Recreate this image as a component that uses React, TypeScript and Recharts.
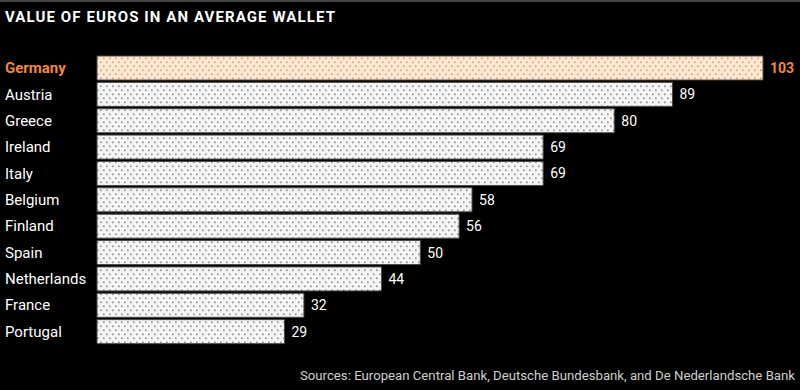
import React from "react";
import { BarChart, Bar, XAxis, YAxis, Cell, LabelList } from "recharts";

const countries = ["Germany", "Austria", "Greece", "Ireland", "Italy", "Belgium", "Finland", "Spain", "Netherlands", "France", "Portugal"];
const values = [103, 89, 80, 69, 69, 58, 56, 50, 44, 32, 29];
const highlight = "Germany";

const data = countries.map((c, i) => ({ country: c, value: values[i] }));

const ORANGE = "#f08a3c";
const FONT = "Roboto, 'Noto Sans', sans-serif";

const CountryTick = (props: any) => {
  const { y, payload } = props;
  const hi = payload.value === highlight;
  return (
    <text x={5} y={y} dy={5} textAnchor="start" fill={hi ? ORANGE : "#ffffff"} fontSize={15} fontWeight={hi ? 700 : 400} fontFamily={FONT}>
      {payload.value}
    </text>
  );
};

const ValueLabel = (props: any) => {
  const { x, y, width, height, value, index } = props;
  const hi = countries[index] === highlight;
  return (
    <text x={Number(x) + Number(width) + 7} y={Number(y) + Number(height) / 2} dy={5} fill={hi ? ORANGE : "#ffffff"} fontSize={14} fontWeight={hi ? 700 : 400} fontFamily={FONT}>
      {value}
    </text>
  );
};

export default function App() {
  return (
    <div style={{ position: "absolute", left: 0, top: 0, width: 800, height: 390, background: "#000", overflow: "hidden" }}>
      <svg width={0} height={0} style={{ position: "absolute" }}>
        <defs>
          <pattern id="dotsGrey" width={6} height={8} patternUnits="userSpaceOnUse">
            <rect width={6} height={8} fill="#f5f5f5" />
            <rect x={1} y={1.5} width={1.6} height={1.6} fill="#8c8c8c" />
            <rect x={4} y={5.5} width={1.6} height={1.6} fill="#8c8c8c" />
          </pattern>
          <pattern id="dotsOrange" width={6} height={8} patternUnits="userSpaceOnUse">
            <rect width={6} height={8} fill="#fce8d6" />
            <rect x={1} y={1.5} width={1.6} height={1.6} fill="#ef9550" />
            <rect x={4} y={5.5} width={1.6} height={1.6} fill="#ef9550" />
          </pattern>
        </defs>
      </svg>
      <div style={{ position: "absolute", left: 0, top: 0, width: 800, height: 2, background: "#444" }} />
      <div style={{ position: "absolute", left: 5, top: 7, color: "#fff", fontFamily: FONT, fontWeight: 700, fontSize: 15, letterSpacing: 1.1, lineHeight: "20px", whiteSpace: "nowrap" }}>
        VALUE OF EUROS IN AN AVERAGE WALLET
      </div>
      <div style={{ position: "absolute", left: 0, top: 0 }}>
        <BarChart width={800} height={390} data={data} layout="vertical" margin={{ top: 55, right: 37, bottom: 45, left: 0 }} barCategoryGap={1}>
          <XAxis type="number" domain={[0, 103]} hide />
          <YAxis type="category" dataKey="country" width={97} axisLine={false} tickLine={false} tick={<CountryTick />} interval={0} />
          <Bar dataKey="value" isAnimationActive={false} stroke="#4a4a4a" strokeWidth={1}>
            {data.map((d) => (
              <Cell key={d.country} fill={d.country === highlight ? "url(#dotsOrange)" : "url(#dotsGrey)"} />
            ))}
            <LabelList dataKey="value" content={<ValueLabel />} />
          </Bar>
        </BarChart>
      </div>
      <div style={{ position: "absolute", right: 5, top: 366, color: "#cfcfcf", fontFamily: FONT, fontSize: 13.2, lineHeight: "20px", whiteSpace: "nowrap" }}>
        Sources: European Central Bank, Deutsche Bundesbank, and De Nederlandsche Bank
      </div>
    </div>
  );
}
